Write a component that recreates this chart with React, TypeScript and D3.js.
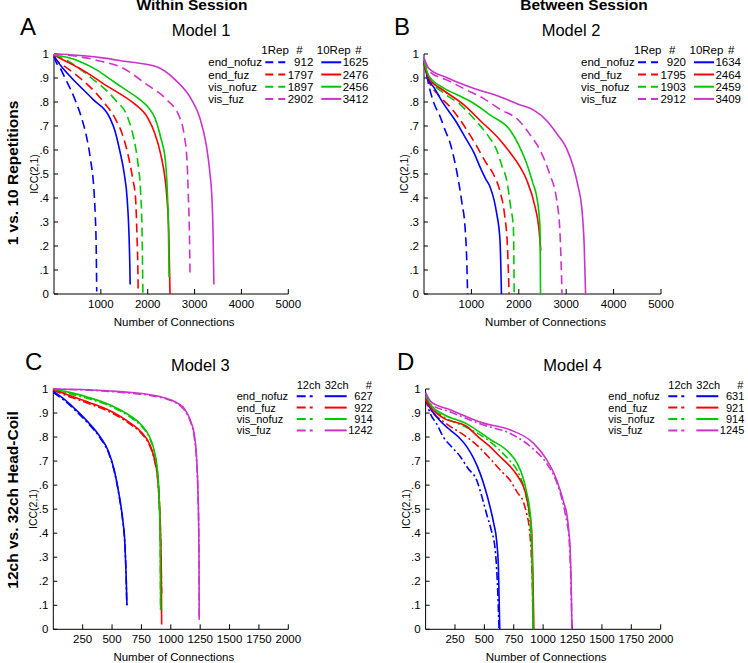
import React from 'react';
import * as d3 from 'd3';

type Pt = [number, number];

const SERIES_NAMES = ['end_nofuz', 'end_fuz', 'vis_nofuz', 'vis_fuz'];
const COLORS = ['#0000ff', '#ff0000', '#00c800', '#cc33cc'];

const Y_TICKS = [0, 0.1, 0.2, 0.3, 0.4, 0.5, 0.6, 0.7, 0.8, 0.9, 1];
const Y_TICK_LABELS = ['0', '.1', '.2', '.3', '.4', '.5', '.6', '.7', '.8', '.9', '1'];
const X_TICKS_AB = [1000, 2000, 3000, 4000, 5000];
const X_TICKS_CD = [250, 500, 750, 1000, 1250, 1500, 1750, 2000];

// ---------- Panel A : Model 1 (1Rep dashed, 10Rep solid) ----------
const A_1rep_end_nofuz: Pt[] = [[0, .99], [60, .96], [113, .947], [235, .90], [448, .81], [590, .733], [700, .65], [780, .56], [850, .44], [880, .33], [900, .2], [912, .01]];
const A_1rep_end_fuz: Pt[] = [[0, .99], [100, .965], [235, .947], [554, .90], [1017, .81], [1300, .733], [1450, .67], [1580, .58], [1680, .48], [1740, .40], [1770, .25], [1790, .1], [1797, 0]];
const A_1rep_vis_nofuz: Pt[] = [[0, .995], [300, .97], [800, .90], [1300, .81], [1578, .733], [1700, .65], [1800, .53], [1850, .42], [1880, .25], [1897, 0]];
const A_1rep_vis_fuz: Pt[] = [[0, 1], [500, .99], [1000, .97], [1407, .947], [2000, .87], [2403, .81], [2687, .733], [2780, .66], [2840, .55], [2865, .42], [2890, .25], [2902, .09]];
const A_10rep_end_nofuz: Pt[] = [[0, .99], [150, .95], [377, .90], [838, .81], [1194, .733], [1300, .68], [1400, .60], [1500, .50], [1560, .40], [1600, .25], [1620, .1], [1625, .04]];
const A_10rep_end_fuz: Pt[] = [[0, .995], [200, .975], [500, .945], [800, .91], [1100, .87], [1400, .835], [1700, .795], [2004, .733], [2150, .67], [2280, .58], [2370, .48], [2410, .40], [2450, .25], [2476, 0]];
const A_10rep_vis_nofuz: Pt[] = [[0, .995], [300, .985], [600, .965], [900, .935], [1200, .895], [1500, .855], [1800, .815], [2000, .78], [2154, .733], [2280, .65], [2380, .55], [2420, .42], [2440, .3], [2456, .07]];
const A_10rep_vis_fuz: Pt[] = [[0, 1], [500, .995], [1000, .985], [1500, .97], [2190, .947], [2600, .89], [2935, .81], [3113, .733], [3250, .62], [3330, .50], [3365, .42], [3395, .25], [3412, .04]];
const A_counts_1rep = [912, 1797, 1897, 2902];
const A_counts_10rep = [1625, 2476, 2456, 3412];

// ---------- Panel B : Model 2 ----------
const B_1rep_end_nofuz: Pt[] = [[0, .97], [50, .92], [90, .88], [200, .80], [338, .74], [450, .68], [549, .63], [650, .55], [724, .475], [800, .38], [865, .28], [900, .15], [920, 0]];
const B_1rep_end_fuz: Pt[] = [[0, .96], [100, .89], [300, .83], [549, .78], [850, .70], [1100, .62], [1300, .55], [1463, .50], [1600, .43], [1700, .33], [1760, .2], [1795, 0]];
const B_1rep_vis_nofuz: Pt[] = [[0, .965], [100, .90], [400, .84], [760, .79], [1100, .72], [1350, .66], [1533, .60], [1650, .53], [1744, .475], [1830, .36], [1885, .28], [1903, 0]];
const B_1rep_vis_fuz: Pt[] = [[0, .975], [100, .93], [500, .89], [900, .85], [1252, .815], [1600, .77], [1990, .725], [2250, .66], [2447, .60], [2650, .50], [2799, .392], [2870, .25], [2912, 0]];
const B_10rep_end_nofuz: Pt[] = [[0, .97], [50, .92], [100, .89], [197, .864], [408, .794], [654, .725], [900, .642], [1050, .59], [1181, .53], [1300, .48], [1392, .447], [1480, .39], [1533, .336], [1603, .225], [1634, 0]];
const B_10rep_end_fuz: Pt[] = [[0, .96], [100, .90], [400, .85], [830, .79], [1200, .72], [1603, .642], [1850, .58], [2025, .53], [2166, .475], [2342, .364], [2420, .28], [2464, .18]];
const B_10rep_vis_nofuz: Pt[] = [[0, .97], [100, .91], [400, .86], [700, .83], [1005, .80], [1400, .745], [1814, .683], [2000, .62], [2166, .544], [2300, .46], [2377, .406], [2447, .28], [2459, 0]];
const B_10rep_vis_fuz: Pt[] = [[0, .985], [100, .94], [500, .90], [1000, .86], [1603, .822], [2000, .79], [2307, .767], [2600, .72], [2799, .669], [3000, .61], [3150, .53], [3260, .44], [3326, .364], [3380, .2], [3409, 0]];
const B_counts_1rep = [920, 1795, 1903, 2912];
const B_counts_10rep = [1634, 2464, 2459, 3409];

// ---------- Panel C : Model 3 (12ch dash-dot, 32ch solid) ----------
const C_12ch_end_nofuz: Pt[] = [[0, .985], [100, .95], [200, .905], [300, .855], [400, .795], [470, .735], [520, .655], [560, .555], [590, .455], [610, .345], [620, .22], [625, .1]];
const C_12ch_end_fuz: Pt[] = [[0, .995], [100, .975], [300, .94], [500, .90], [650, .855], [750, .815], [820, .765], [860, .705], [890, .615], [905, .50], [915, .35], [920, .2], [922, .15]];
const C_12ch_vis_nofuz: Pt[] = [[0, 1], [100, .985], [300, .96], [500, .925], [650, .885], [750, .845], [820, .795], [860, .735], [890, .635], [903, .52], [910, .35], [913, .08]];
const C_12ch_vis_fuz: Pt[] = [[0, 1], [300, .995], [600, .985], [800, .975], [950, .96], [1050, .94], [1120, .91], [1170, .86], [1200, .80], [1220, .70], [1232, .55], [1238, .4], [1241, .2], [1242, .04]];
const C_32ch_end_nofuz: Pt[] = [[0, .99], [100, .955], [200, .91], [300, .86], [400, .80], [470, .74], [520, .66], [560, .56], [590, .46], [610, .35], [620, .22], [627, .1]];
const C_32ch_end_fuz: Pt[] = [[0, 1], [100, .98], [300, .945], [500, .905], [650, .86], [750, .82], [820, .77], [860, .71], [890, .62], [905, .50], [915, .35], [920, .2], [922, .02]];
const C_32ch_vis_nofuz: Pt[] = [[0, 1], [100, .99], [300, .965], [500, .93], [650, .89], [750, .85], [820, .80], [860, .74], [890, .64], [903, .52], [910, .35], [914, .08]];
const C_32ch_vis_fuz: Pt[] = [[0, 1], [300, .997], [600, .988], [800, .978], [950, .963], [1050, .943], [1120, .915], [1170, .865], [1200, .81], [1220, .71], [1232, .56], [1238, .4], [1241, .2], [1242, .04]];
const C_counts = [627, 922, 914, 1242];

// ---------- Panel D : Model 4 ----------
const D_12ch_end_nofuz: Pt[] = [[0, .96], [30, .91], [100, .85], [151, .80], [220, .76], [293, .72], [360, .67], [435, .62], [480, .55], [519, .48], [560, .41], [590, .34], [610, .2], [625, 0]];
const D_12ch_end_fuz: Pt[] = [[0, .955], [50, .91], [150, .865], [350, .80], [450, .76], [548, .71], [650, .655], [719, .62], [780, .57], [832, .53], [860, .48], [880, .43], [900, .30], [910, .15], [916, 0]];
const D_12ch_vis_nofuz: Pt[] = [[0, .965], [50, .925], [150, .885], [350, .84], [550, .78], [700, .71], [780, .66], [830, .60], [860, .54], [880, .48], [895, .40], [905, .30], [910, .15], [912, 0]];
const D_12ch_vis_fuz: Pt[] = [[0, .98], [50, .935], [208, .905], [491, .85], [719, .815], [917, .75], [1030, .69], [1100, .63], [1144, .57], [1180, .50], [1200, .45], [1220, .38], [1229, .30], [1240, .12], [1245, 0]];
const D_32ch_end_nofuz: Pt[] = [[0, .97], [30, .93], [100, .88], [208, .83], [280, .80], [350, .76], [410, .71], [463, .65], [510, .58], [548, .51], [580, .44], [604, .37], [620, .25], [631, 0]];
const D_32ch_end_fuz: Pt[] = [[0, .96], [50, .92], [150, .88], [350, .844], [450, .80], [548, .76], [630, .72], [719, .678], [780, .64], [832, .594], [860, .55], [875, .51], [895, .45], [903, .40], [912, .25], [921, 0]];
const D_32ch_vis_nofuz: Pt[] = [[0, .97], [50, .93], [150, .895], [350, .855], [550, .79], [700, .74], [780, .69], [830, .63], [860, .57], [880, .52], [895, .45], [905, .35], [910, .2], [914, 0]];
const D_32ch_vis_fuz: Pt[] = [[0, .985], [50, .945], [208, .914], [491, .858], [719, .83], [917, .775], [1030, .706], [1100, .64], [1144, .58], [1180, .52], [1200, .483], [1220, .40], [1229, .344], [1240, .15], [1245, 0]];
const D_counts = [631, 921, 914, 1245];

const FONT = '"Liberation Sans", Arial, Helvetica, sans-serif';
const DASH_REP = '9,5';
const DASH_CH = '8,3,2,3';

type PanelProps = {
  x0: number; x1: number; yTop: number; yBot: number; xMax: number; xTicks: number[];
  brokenSeries: Pt[][]; solidSeries: Pt[][]; brokenDash: string;
  title: string; letter: string; letterX: number;
  kind: 'rep' | 'ch';
  counts1: number[]; counts2?: number[];
  legendX: number;
};

function Panel(p: PanelProps) {
  const x = d3.scaleLinear().domain([0, p.xMax]).range([p.x0, p.x1]);
  const y = d3.scaleLinear().domain([0, 1]).range([p.yBot, p.yTop]);
  const line = d3.line<Pt>().x(d => x(d[0])).y(d => y(d[1])).curve(d3.curveMonotoneX);
  const cx = (p.x0 + p.x1) / 2;
  const lx = p.legendX;
  const rep = p.kind === 'rep';
  const hdrY = rep ? p.yTop + 0 : p.yTop - 0.3;
  const row0 = rep ? p.yTop + 12.3 : p.yTop + 11.2;
  const step = rep ? 12.2 : 11.4;
  const lfs = rep ? 11.5 : 11;
  return (
    <g>
      <text x={p.letterX} y={p.yTop - 19} fontSize={24} fontFamily={FONT}>{p.letter}</text>
      <text x={p.x0 + 147} y={p.yTop - 18} fontSize={16.5} fontFamily={FONT} textAnchor="middle">{p.title}</text>
      {/* axes */}
      <line x1={p.x0} x2={p.x0} y1={p.yTop} y2={p.yBot} stroke="#000" strokeWidth={1} />
      <line x1={p.x0} x2={p.x1} y1={p.yBot} y2={p.yBot} stroke="#000" strokeWidth={1} />
      {Y_TICKS.map((t, i) => (
        <g key={'y' + i}>
          <line x1={p.x0} x2={p.x0 + 4} y1={y(t)} y2={y(t)} stroke="#000" strokeWidth={1} />
          <text x={p.x0 - 5} y={y(t) + 4} fontSize={11.5} fontFamily={FONT} textAnchor="end">{Y_TICK_LABELS[i]}</text>
        </g>
      ))}
      {p.xTicks.map((t, i) => (
        <g key={'x' + i}>
          <line x1={x(t)} x2={x(t)} y1={p.yBot} y2={p.yBot - 5} stroke="#000" strokeWidth={1} />
          <text x={x(t)} y={p.yBot + 14} fontSize={11.5} fontFamily={FONT} textAnchor="middle">{String(t)}</text>
        </g>
      ))}
      <text x={cx + 3} y={p.yBot + 32} fontSize={11.5} fontFamily={FONT} textAnchor="middle">Number of Connections</text>
      <text transform={`translate(${p.x0 - 16},${(p.yTop + p.yBot) / 2}) rotate(-90)`} fontSize={10.5} fontFamily={FONT} textAnchor="middle">ICC(2,1)</text>
      {/* curves */}
      {p.brokenSeries.map((s, i) => (
        <path key={'b' + i} d={line(s) || ''} fill="none" stroke={COLORS[i]} strokeWidth={1.6} strokeDasharray={p.brokenDash} />
      ))}
      {p.solidSeries.map((s, i) => (
        <path key={'s' + i} d={line(s) || ''} fill="none" stroke={COLORS[i]} strokeWidth={1.6} />
      ))}
      {/* legend */}
      <g fontFamily={FONT} fontSize={lfs}>
        {rep ? (
          <>
            <text x={lx + 53} y={hdrY}>1Rep</text>
            <text x={lx + 88} y={hdrY}>#</text>
            <text x={lx + 108.5} y={hdrY}>10Rep</text>
            <text x={lx + 147} y={hdrY}>#</text>
          </>
        ) : (
          <>
            <text x={lx + 60} y={hdrY}>12ch</text>
            <text x={lx + 88} y={hdrY}>32ch</text>
            <text x={lx + 129} y={hdrY}>#</text>
          </>
        )}
        {SERIES_NAMES.map((n, i) => {
          const by = row0 + i * step;
          const ly = by - 4;
          return (
            <g key={'l' + i}>
              <text x={lx} y={by}>{n}</text>
              {rep ? (
                <>
                  <line x1={lx + 57} x2={lx + 77} y1={ly} y2={ly} stroke={COLORS[i]} strokeWidth={2} strokeDasharray="8,5" />
                  <text x={lx + 105} y={by} textAnchor="end">{p.counts1[i]}</text>
                  <line x1={lx + 113} x2={lx + 133} y1={ly} y2={ly} stroke={COLORS[i]} strokeWidth={2} />
                  <text x={lx + 160} y={by} textAnchor="end">{p.counts2 ? p.counts2[i] : ''}</text>
                </>
              ) : (
                <>
                  <line x1={lx + 60} x2={lx + 79} y1={ly} y2={ly} stroke={COLORS[i]} strokeWidth={2} strokeDasharray="9,4,3,4" />
                  <line x1={lx + 88} x2={lx + 110} y1={ly} y2={ly} stroke={COLORS[i]} strokeWidth={2} />
                  <text x={lx + 136} y={by} textAnchor="end">{p.counts1[i]}</text>
                </>
              )}
            </g>
          );
        })}
      </g>
    </g>
  );
}

export default function App() {
  return (
    <svg width={748} height={663} style={{ position: 'absolute', left: 0, top: 0, background: '#fff' }}>
      <rect x={0} y={0} width={748} height={663} fill="#fff" />
      <text x={192} y={10} fontSize={15.5} fontWeight="bold" fontFamily={FONT} textAnchor="middle">Within Session</text>
      <text x={584} y={10} fontSize={15.5} fontWeight="bold" fontFamily={FONT} textAnchor="middle">Between Session</text>
      <text transform="translate(18,173) rotate(-90)" fontSize={15.5} fontWeight="bold" fontFamily={FONT} textAnchor="middle">1 vs. 10 Repetitions</text>
      <text transform="translate(18,500) rotate(-90)" fontSize={15.5} fontWeight="bold" fontFamily={FONT} textAnchor="middle">12ch vs. 32ch Head-Coil</text>
      <Panel x0={54} x1={288.3} yTop={54} yBot={294} xMax={5000} xTicks={X_TICKS_AB}
        brokenSeries={[A_1rep_end_nofuz, A_1rep_end_fuz, A_1rep_vis_nofuz, A_1rep_vis_fuz]}
        solidSeries={[A_10rep_end_nofuz, A_10rep_end_fuz, A_10rep_vis_nofuz, A_10rep_vis_fuz]}
        brokenDash={DASH_REP} title="Model 1" letter="A" letterX={20} kind="rep"
        counts1={A_counts_1rep} counts2={A_counts_10rep} legendX={208.3} />
      <Panel x0={424} x1={661} yTop={54} yBot={294} xMax={5000} xTicks={X_TICKS_AB}
        brokenSeries={[B_1rep_end_nofuz, B_1rep_end_fuz, B_1rep_vis_nofuz, B_1rep_vis_fuz]}
        solidSeries={[B_10rep_end_nofuz, B_10rep_end_fuz, B_10rep_vis_nofuz, B_10rep_vis_fuz]}
        brokenDash={DASH_REP} title="Model 2" letter="B" letterX={394} kind="rep"
        counts1={B_counts_1rep} counts2={B_counts_10rep} legendX={581} />
      <Panel x0={53.3} x1={288.3} yTop={389} yBot={629.3} xMax={2000} xTicks={X_TICKS_CD}
        brokenSeries={[C_12ch_end_nofuz, C_12ch_end_fuz, C_12ch_vis_nofuz, C_12ch_vis_fuz]}
        solidSeries={[C_32ch_end_nofuz, C_32ch_end_fuz, C_32ch_vis_nofuz, C_32ch_vis_fuz]}
        brokenDash={DASH_CH} title="Model 3" letter="C" letterX={25} kind="ch"
        counts1={C_counts} legendX={236.7} />
      <Panel x0={425.6} x1={660.7} yTop={389} yBot={629.3} xMax={2000} xTicks={X_TICKS_CD}
        brokenSeries={[D_12ch_end_nofuz, D_12ch_end_fuz, D_12ch_vis_nofuz, D_12ch_vis_fuz]}
        solidSeries={[D_32ch_end_nofuz, D_32ch_end_fuz, D_32ch_vis_nofuz, D_32ch_vis_fuz]}
        brokenDash={DASH_CH} title="Model 4" letter="D" letterX={397} kind="ch"
        counts1={D_counts} legendX={608.3} />
    </svg>
  );
}
